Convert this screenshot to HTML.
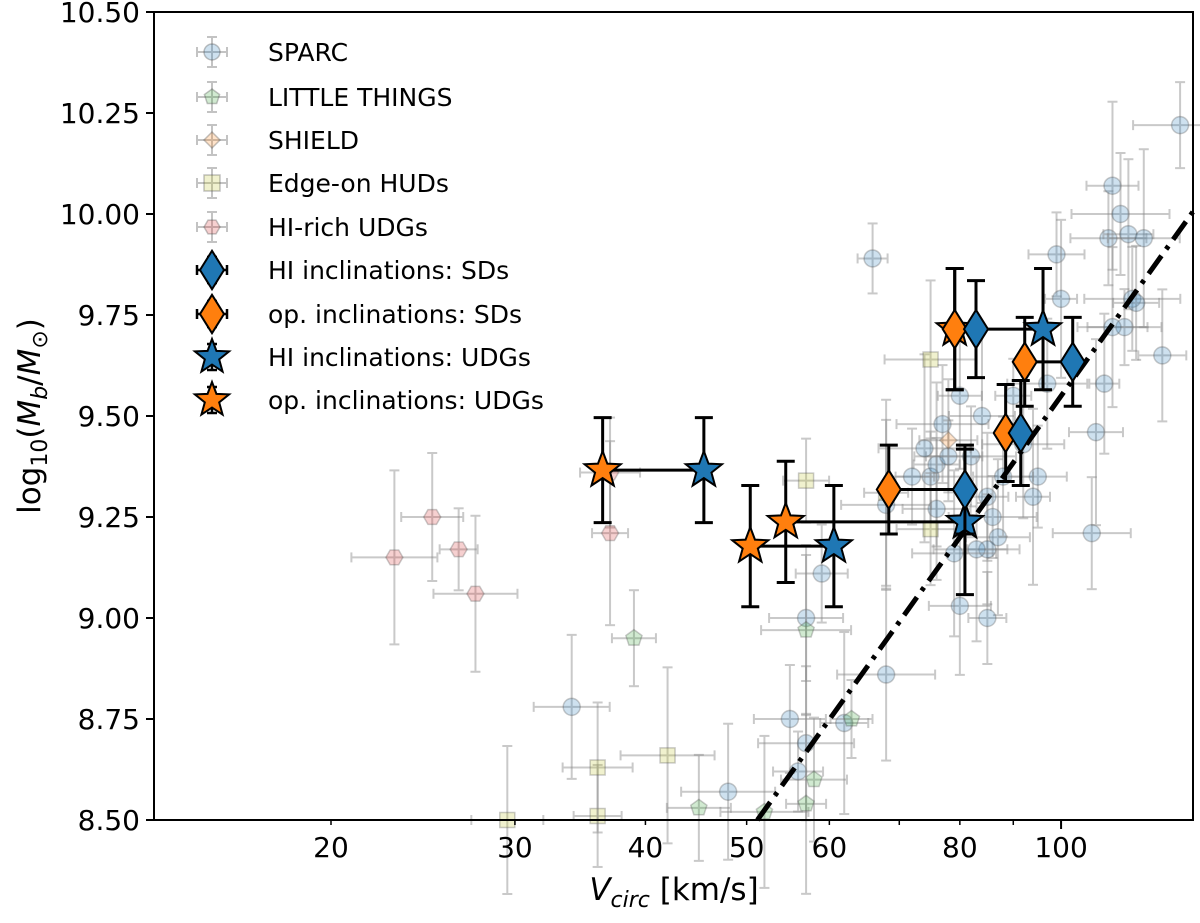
<!DOCTYPE html>
<html><head><meta charset="utf-8"><style>
body{margin:0;background:#fff;}
svg{font-family:"DejaVu Sans","Liberation Sans",sans-serif;}
</style></head><body>
<svg id="chart" width="1200" height="918" xmlns="http://www.w3.org/2000/svg">
<g id="bg"></g>
<g id="fitline"></g>
<g id="main"></g>
<g id="axes"></g>
<g id="legend"></g>
</svg>
<script>
const sparc=[[66,9.89],[34,8.78],[59,9.11],[68,8.86],[57,9.0],[56,8.62],[57,8.69],[55,8.75],[62,8.74],[48,8.57],[75,9.35],[76,9.38],[77,9.48],[78,9.40],[80,9.55],[82,9.40],[84,9.50],[85,9.30],[86,9.25],[87,9.20],[85,9.17],[83,9.17],[80,9.03],[85,9.0],[79,9.16],[88,9.35],[90,9.55],[92,9.43],[95,9.35],[94,9.30],[97,9.58],[99,9.90],[100,9.79],[107,9.21],[108,9.46],[110,9.58],[111,9.94],[112,10.07],[114,10.0],[115,9.72],[116,9.95],[117,9.79],[120,9.94],[125,9.65],[130,10.22],[112,9.72],[118,9.78],[74,9.42],[76,9.27],[72,9.35],[68,9.28]];
const littleThings=[[39,8.95],[57,8.97],[58,8.6],[63,8.75],[52,8.52],[45,8.53],[57,8.54]];
const shield=[[78,9.44]];
const edgeHUDs=[[29.5,8.5],[36,8.51],[42,8.66],[36,8.63],[57,9.34],[75,9.64],[75,9.22],[68,9.31]];
const hiUDGs=[[23,9.15],[25,9.25],[26.5,9.17],[27.5,9.06],[37,9.36],[37,9.21]];
// main series: [v, logM, yerr]
const hiSDs=[[82.9,9.715,0.12],[102.6,9.634,0.11],[91.5,9.458,0.13],[80.9,9.318,0.11]];
const opSDs=[[79.1,9.715,0.15],[92.3,9.634,0.11],[88.5,9.458,0.12],[68.4,9.318,0.11]];
const hiUDGsMain=[[96.1,9.715,0.15],[45.5,9.366,0.13],[80.9,9.238,0.18],[60.6,9.178,0.15]];
const opUDGsMain=[[79.1,9.715,0.15],[36.4,9.366,0.13],[54.5,9.238,0.15],[50.4,9.178,0.15]];
const fitX=[51.2,133.7];
const fitY=[8.5,10.005];
const xTicks=[20,30,40,50,60,80,100];
const xMinor=[20,30,40,50,60,70,80,90,100];
const yTicks=[8.5,8.75,9.0,9.25,9.5,9.75,10.0,10.25,10.5];

const NS="http://www.w3.org/2000/svg";
const L=154,R=1193,T=12,B=820;
const xs=v=>331+1044.5*Math.log10(v/20);
const ys=m=>12+(10.5-m)*404;
function el(tag,attrs,parent){const e=document.createElementNS(NS,tag);for(const k in attrs)e.setAttribute(k,attrs[k]);parent.appendChild(e);return e;}
const bg=document.getElementById('bg'),mainG=document.getElementById('main'),axes=document.getElementById('axes'),leg=document.getElementById('legend');
function shape(kind,cx,cy,s,fill,stroke,sw,parent){
 let e;
 if(kind==='circle')e=el('circle',{cx,cy,r:s},parent);
 else{
  let pts=[];
  if(kind==='pent')for(let i=0;i<5;i++){const a=-Math.PI/2+i*2*Math.PI/5;pts.push([cx+s*Math.cos(a),cy+s*Math.sin(a)]);}
  if(kind==='hex')for(let i=0;i<6;i++){const a=i*Math.PI/3;pts.push([cx+s*Math.cos(a),cy+s*Math.sin(a)]);}
  if(kind==='dia')pts=[[cx,cy-s*1.6],[cx+s,cy],[cx,cy+s*1.6],[cx-s,cy]];
  if(kind==='sdia')pts=[[cx,cy-s],[cx+s,cy],[cx,cy+s],[cx-s,cy]];
  if(kind==='sq')pts=[[cx-s,cy-s],[cx+s,cy-s],[cx+s,cy+s],[cx-s,cy+s]];
  if(kind==='star')for(let i=0;i<10;i++){const a=-Math.PI/2+i*Math.PI/5;const r=i%2?s*0.42:s;pts.push([cx+r*Math.cos(a),cy+r*Math.sin(a)]);}
  e=el('polygon',{points:pts.map(p=>p.join(',')).join(' ')},parent);
 }
 e.setAttribute('fill',fill);e.setAttribute('stroke',stroke);e.setAttribute('stroke-width',sw);return e;
}
function errbar(x,y1,y2,x1,x2,color,w,cap,op,parent){
 const g=el('g',{stroke:color,'stroke-width':w,opacity:op},parent);
 el('line',{x1:x,y1:y1,x2:x,y2:y2},g);
 el('line',{x1:x-cap,y1:y1,x2:x+cap,y2:y1},g);el('line',{x1:x-cap,y1:y2,x2:x+cap,y2:y2},g);
 if(x1!==null){el('line',{x1:x1,y1:(y1+y2)/2,x2:x2,y2:(y1+y2)/2},g);
 el('line',{x1:x1,y1:(y1+y2)/2-cap,x2:x1,y2:(y1+y2)/2+cap},g);el('line',{x1:x2,y1:(y1+y2)/2-cap,x2:x2,y2:(y1+y2)/2+cap},g);}
 return g;
}
const sets=[[sparc,'circle','rgba(31,119,180,0.22)','sparc-point'],[littleThings,'pent','rgba(44,160,44,0.22)','little-things-point'],[shield,'sdia','rgba(255,127,14,0.22)','shield-point'],[edgeHUDs,'sq','rgba(188,189,34,0.22)','edge-on-hud-point'],[hiUDGs,'hex','rgba(214,39,40,0.22)','hi-rich-udg-point']];
sets.forEach(([data,kind,fill,name],si)=>{
 data.forEach((d,i)=>{
  const x=xs(d[0]),y=ys(d[1]);
  const ey=35+((i*37+si*13)%60),ex=15+((i*23+si*7)%35);
  const g=errbar(x,y-ey,y+ey,x-ex,x+ex,'#888',2,5,0.45,bg);
  
  
  const s=shape(kind,x,y,kind==='sq'?7.5:8.5,fill,'rgba(80,80,80,0.3)',1.5,bg);
  
  
 });
});
const fl=el('line',{x1:xs(fitX[0]),y1:ys(fitY[0]),x2:xs(fitX[1]),y2:ys(fitY[1]),stroke:'#000','stroke-width':5,'stroke-dasharray':'22,8,4,8'},document.getElementById('fitline'));


for(let i=0;i<hiSDs.length;i++){const c=el('line',{x1:xs(opSDs[i][0]),y1:ys(opSDs[i][1]),x2:xs(hiSDs[i][0]),y2:ys(hiSDs[i][1]),stroke:'#000','stroke-width':3},mainG);
 }
for(let i=0;i<hiUDGsMain.length;i++){const c=el('line',{x1:xs(opUDGsMain[i][0]),y1:ys(opUDGsMain[i][1]),x2:xs(hiUDGsMain[i][0]),y2:ys(hiUDGsMain[i][1]),stroke:'#000','stroke-width':3},mainG);
 }
const mains=[[opUDGsMain,'star','#ff7f0e','op-udg-point',19],[hiUDGsMain,'star','#1f77b4','hi-udg-point',19],[opSDs,'dia','#ff7f0e','op-sd-point',12],[hiSDs,'dia','#1f77b4','hi-sd-point',12]];
mains.forEach(([data,kind,fill,name,sz])=>{
 data.forEach(d=>{
  const x=xs(d[0]),y=ys(d[1]);
  const g=errbar(x,ys(d[1]+d[2]),ys(d[1]-d[2]),null,null,'#000',3,9,1,mainG);
  
  
  const s=shape(kind,x,y,sz,fill,'#000',2,mainG);
  
  
 });
});
const fr=el('rect',{x:L,y:T,width:R-L,height:B-T,fill:'none',stroke:'#000','stroke-width':2},axes);

yTicks.forEach(v=>{const y=ys(v);el('line',{x1:L-8,y1:y,x2:L,y2:y,stroke:'#000','stroke-width':2},axes);
 const t=el('text',{x:L-14,y:y+10,'text-anchor':'end','font-size':28},axes);t.textContent=v.toFixed(2);
 });
xMinor.forEach(v=>{const x=xs(v);el('line',{x1:x,y1:B,x2:x,y2:B+5,stroke:'#000','stroke-width':1.5},axes);});
const x10=xs(100);el('line',{x1:x10,y1:B,x2:x10,y2:B+9,stroke:'#000','stroke-width':2},axes);
xTicks.forEach(v=>{const t=el('text',{x:xs(v),y:B+37,'text-anchor':'middle','font-size':28},axes);t.textContent=v;
 });
const xt=el('text',{x:674,y:900,'text-anchor':'middle','font-size':31},axes);
xt.innerHTML='<tspan font-style="italic">V</tspan><tspan font-style="italic" font-size="22" dy="7">circ</tspan><tspan dy="-7"> [km/s]</tspan>';

const yt=el('text',{x:0,y:0,'text-anchor':'middle','font-size':31,transform:'translate(40,416) rotate(-90)'},axes);
yt.innerHTML='log<tspan font-size="22" dy="7">10</tspan><tspan dy="-7">(</tspan><tspan font-style="italic">M</tspan><tspan font-style="italic" font-size="22" dy="7">b</tspan><tspan dy="-7">/</tspan><tspan font-style="italic">M</tspan><tspan font-size="22" dy="7">⊙</tspan><tspan dy="-7">)</tspan>';

const legItems=[['circle','rgba(31,119,180,0.22)','SPARC',0],['pent','rgba(44,160,44,0.22)','LITTLE THINGS',0],['sdia','rgba(255,127,14,0.22)','SHIELD',0],['sq','rgba(188,189,34,0.22)','Edge-on HUDs',0],['hex','rgba(214,39,40,0.22)','HI-rich UDGs',0],['dia','#1f77b4','HI inclinations: SDs',1],['dia','#ff7f0e','op. inclinations: SDs',1],['star','#1f77b4','HI inclinations: UDGs',2],['star','#ff7f0e','op. inclinations: UDGs',2]];
const legY=[52,97,140,183,227,270,314,357,400];
legItems.forEach((it,i)=>{
 const y=legY[i],x=212;
 const g=el('g',{},leg);
 
 
 if(it[3]===0){errbar(x,y-15,y+15,x-15,x+15,'#888',2,5,0.5,g);shape(it[0],x,y,8,it[1],'rgba(80,80,80,0.35)',1.5,g);}
 else{errbar(x,y-13,y+13,it[3]===1?x-15:null,x+15,'#000',2.5,5,1,g);shape(it[0],x,y,it[3]===1?12:18,it[1],'#000',2,g);}
 const t=el('text',{x:268,y:y+9,'font-size':25},g);t.textContent=it[2];
});
</script>
</body></html>
